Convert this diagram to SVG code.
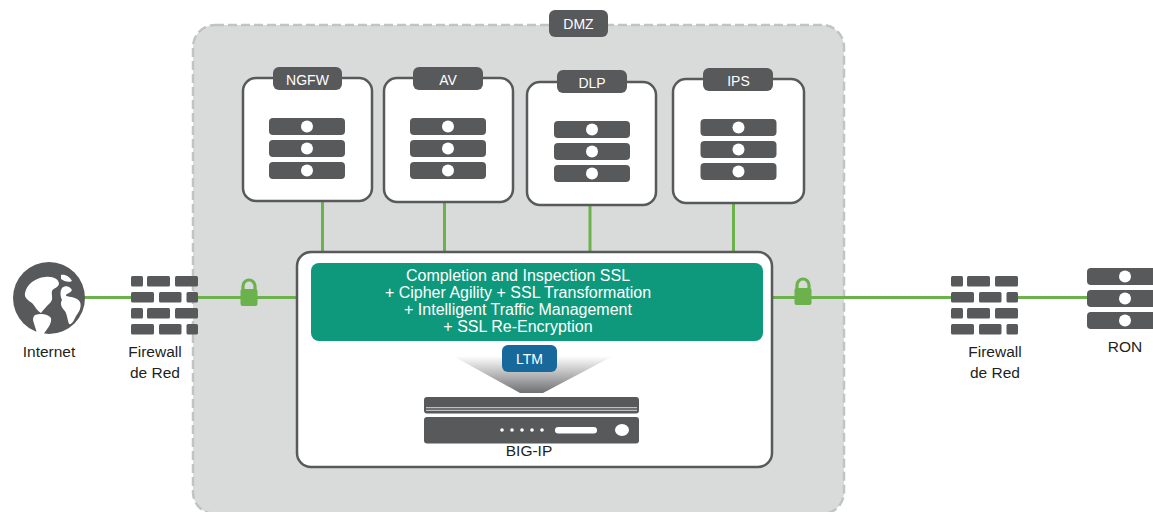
<svg xmlns="http://www.w3.org/2000/svg" width="1153" height="512" viewBox="0 0 1153 512">
  <style>
    .dark { fill: #58595b; }
    .box { fill: #ffffff; stroke: #58595b; stroke-width: 2.5; }
    .dot { fill: #ffffff; }
    .wire { stroke: #6cb24c; stroke-width: 3; fill: none; }
    .lbl { font-family: "Liberation Sans", Arial, sans-serif; font-size: 15.5px; fill: #231f20; text-anchor: middle; }
    .tab { font-family: "Liberation Sans", Arial, sans-serif; font-size: 14px; fill: #ffffff; text-anchor: middle; }
    .feat { font-family: "Liberation Sans", Arial, sans-serif; font-size: 16px; fill: #ffffff; text-anchor: middle; }
  </style>
  <defs>
    <!-- one rack unit: bar with a status light -->
    <g id="unit">
      <rect x="-38" y="0" width="76" height="17" rx="4" class="dark"/>
      <circle cx="0" cy="8.5" r="6" class="dot"/>
    </g>
    <g id="stack">
      <use href="#unit" y="0"/>
      <use href="#unit" y="22"/>
      <use href="#unit" y="44"/>
    </g>
    <!-- wall of bricks -->
    <g id="wall">
      <rect x="0" y="0" width="12" height="10.5" rx="1.5" class="dark"/>
      <rect x="16" y="0" width="23" height="10.5" rx="1.5" class="dark"/>
      <rect x="44" y="0" width="23" height="10.5" rx="1.5" class="dark"/>
      <rect x="0" y="16" width="23" height="10.5" rx="1.5" class="dark"/>
      <rect x="28" y="16" width="22.5" height="10.5" rx="1.5" class="dark"/>
      <rect x="55.5" y="16" width="11.5" height="10.5" rx="1.5" class="dark"/>
      <rect x="0" y="32" width="12" height="10.5" rx="1.5" class="dark"/>
      <rect x="16" y="32" width="23" height="10.5" rx="1.5" class="dark"/>
      <rect x="44" y="32" width="23" height="10.5" rx="1.5" class="dark"/>
      <rect x="0" y="48" width="23" height="10.5" rx="1.5" class="dark"/>
      <rect x="28" y="48" width="22.5" height="10.5" rx="1.5" class="dark"/>
      <rect x="55.5" y="48" width="11.5" height="10.5" rx="1.5" class="dark"/>
    </g>
    <!-- padlock -->
    <g id="lock">
      <path d="M-6,0 V-4 A6,6 0 0 1 6,-4 V0" fill="none" stroke="#6cb24c" stroke-width="3.2"/>
      <rect x="-8.5" y="-1" width="17" height="17" rx="2" fill="#6cb24c"/>
    </g>
    <linearGradient id="beam" x1="0" y1="0" x2="0" y2="1">
      <stop offset="0" stop-color="#ffffff"/>
      <stop offset="1" stop-color="#6f7072"/>
    </linearGradient>
  </defs>

  <!-- DMZ zone -->
  <g id="dmz">
    <rect x="193" y="25" width="651" height="489" rx="22" fill="#d9dada" stroke="#c2c4c4" stroke-width="2.5" stroke-dasharray="9 4"/>
    <rect x="549" y="10" width="59" height="27" rx="6" class="dark"/>
    <text x="578.5" y="29" class="tab" font-size="15px">DMZ</text>
  </g>

  <!-- connectors -->
  <g id="connectors">
    <line class="wire" x1="84" y1="297.5" x2="131" y2="297.5"/>
    <line class="wire" x1="198" y1="297.5" x2="297" y2="297.5"/>
    <line class="wire" x1="772" y1="297.5" x2="951" y2="297.5"/>
    <line class="wire" x1="1017" y1="297.5" x2="1087" y2="297.5"/>
    <line class="wire" x1="322.5" y1="201" x2="322.5" y2="252"/>
    <line class="wire" x1="444.5" y1="202" x2="444.5" y2="252"/>
    <line class="wire" x1="590" y1="205" x2="590" y2="252"/>
    <line class="wire" x1="733.5" y1="203" x2="733.5" y2="252"/>
    <use href="#lock" x="249" y="290"/>
    <use href="#lock" x="803" y="289"/>
  </g>

  <!-- security services -->
  <g id="ngfw">
    <rect class="box" x="243" y="78" width="129" height="123" rx="13"/>
    <rect class="dark" x="273" y="67" width="69" height="23" rx="6"/>
    <text class="tab" x="307.5" y="85">NGFW</text>
    <use href="#stack" x="307" y="118"/>
  </g>
  <g id="av">
    <rect class="box" x="384" y="78" width="129" height="124" rx="13"/>
    <rect class="dark" x="413" y="67" width="70" height="23" rx="6"/>
    <text class="tab" x="448" y="85">AV</text>
    <use href="#stack" x="448" y="118"/>
  </g>
  <g id="dlp">
    <rect class="box" x="527" y="82" width="129" height="123" rx="13"/>
    <rect class="dark" x="557" y="70" width="70" height="23" rx="6"/>
    <text class="tab" x="592" y="88">DLP</text>
    <use href="#stack" x="592" y="121"/>
  </g>
  <g id="ips">
    <rect class="box" x="673" y="79" width="131" height="124" rx="13"/>
    <rect class="dark" x="703" y="68" width="70" height="23" rx="6"/>
    <text class="tab" x="738.5" y="86">IPS</text>
    <use href="#stack" x="738.5" y="119"/>
  </g>

  <!-- BIG-IP appliance -->
  <g id="bigip">
    <rect class="box" x="297" y="252" width="475" height="215" rx="14" stroke-width="2"/>
    <rect x="311" y="263" width="452" height="78" rx="8" fill="#0f997c"/>
    <text class="feat" x="518" y="281">Completion and Inspection SSL</text>
    <text class="feat" x="518" y="298">+ Cipher Agility + SSL Transformation</text>
    <text class="feat" x="518" y="315">+ Intelligent Traffic Management</text>
    <text class="feat" x="518" y="332">+ SSL Re-Encryption</text>
    <path d="M453,356 L613,356 L543,393 L520,393 Z" fill="url(#beam)"/>
    <rect x="502" y="345" width="55" height="27" rx="6" fill="#17699b"/>
    <text class="tab" x="529.5" y="364" font-size="15px">LTM</text>
    <rect class="dark" x="424" y="397" width="215" height="16.5" rx="3"/>
    <line x1="426" y1="407.7" x2="637" y2="407.7" stroke="#ffffff" stroke-width="0.9" opacity="0.85"/>
    <line x1="426" y1="410.3" x2="637" y2="410.3" stroke="#ffffff" stroke-width="0.9" opacity="0.85"/>
    <rect class="dark" x="424" y="417" width="215" height="26.5" rx="3"/>
    <circle class="dot" cx="502" cy="430" r="1.8"/>
    <circle class="dot" cx="512" cy="430" r="1.8"/>
    <circle class="dot" cx="522" cy="430" r="1.8"/>
    <circle class="dot" cx="532" cy="430" r="1.8"/>
    <circle class="dot" cx="542" cy="430" r="1.8"/>
    <rect class="dot" x="555" y="427" width="42" height="6.5" rx="3.2"/>
    <ellipse class="dot" cx="622" cy="430" rx="7" ry="6"/>
    <text class="lbl" x="529" y="456" font-size="14.5px">BIG-IP</text>
  </g>

  <!-- outside endpoints -->
  <g id="internet">
    <circle cx="49" cy="298" r="36" class="dark"/>
    <path class="dot" d="M25,293 C27,284 35,278 45,277 C53,276 59,279 59,284 C58,288 53,288 52,291 C51,295 54,299 50,303 C46,307 43,310 41,313 C37,311 35,306 32,303 C28,300 24,298 25,293 Z"/>
    <path class="dot" d="M35,315 C41,313 48,314 51,318 C52,323 48,328 45,332 C43,336 39,338 37,334 C36,329 34,324 33,320 C33,317 34,316 35,315 Z"/>
    <path class="dot" d="M62,288 C65,285 70,286 72,290 C70,294 66,293 66,296 C70,297 77,297 80,302 C82,307 79,312 76,316 C74,320 72,325 69,324 C67,318 67,313 64,310 C61,307 60,303 62,300 C60,296 60,291 62,288 Z"/>
    <path class="dot" d="M61,275 C65,274 70,277 72,281 C68,283 64,281 61,279 Z"/>
    <text class="lbl" x="49" y="357">Internet</text>
  </g>
  <g id="firewall-in">
    <use href="#wall" x="131" y="276"/>
    <text class="lbl" x="155" y="357">Firewall</text>
    <text class="lbl" x="155" y="378">de Red</text>
  </g>
  <g id="firewall-out">
    <use href="#wall" x="951" y="276"/>
    <text class="lbl" x="995" y="357">Firewall</text>
    <text class="lbl" x="995" y="378">de Red</text>
  </g>
  <g id="ron">
    <use href="#stack" x="1125" y="268"/>
    <text class="lbl" x="1125" y="352">RON</text>
  </g>
</svg>
